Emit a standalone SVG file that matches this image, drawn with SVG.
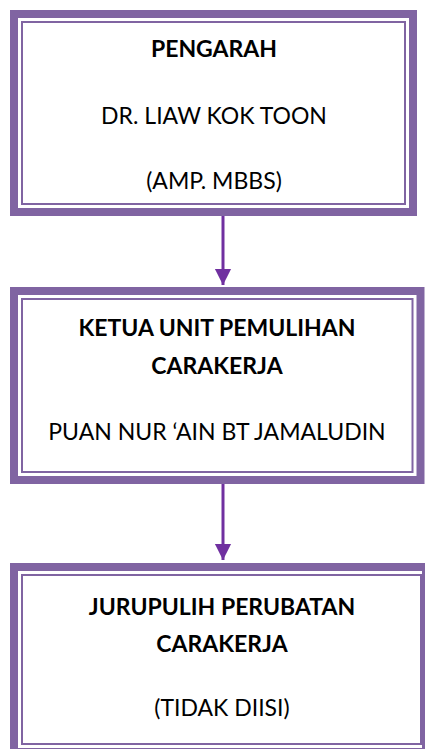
<svg xmlns="http://www.w3.org/2000/svg" width="425" height="749" viewBox="0 0 425 749">
<style>
.outer{fill:#ffffff;stroke:#8064A2;stroke-width:8}
.inner{fill:none;stroke:#8064A2;stroke-width:2}
text{font-family:Lato,"Liberation Sans",sans-serif;font-size:23px;fill:#000;text-anchor:middle}
.b{font-weight:bold}
.conn{stroke:#7030A0;stroke-width:3;fill:none}
</style>
<defs>
<marker id="ah" markerWidth="6" markerHeight="6" refX="5.3" refY="3" orient="auto" markerUnits="strokeWidth">
<path d="M0,0.3 L5.3,3 L0,5.7 Z" fill="#7030A0"/>
</marker>
</defs>
<g id="connectors">
<line class="conn" x1="223" y1="216" x2="223" y2="285" marker-end="url(#ah)"/>
<line class="conn" x1="223" y1="484" x2="223" y2="560" marker-end="url(#ah)"/>
</g>
<g id="node1">
<rect class="outer" x="14" y="14" width="399" height="198"/>
<rect class="inner" x="22" y="22" width="383" height="182"/>
<text class="b" x="214" y="57">PENGARAH</text>
<text x="214" y="124">DR. LIAW KOK TOON</text>
<text x="214" y="189">(AMP. MBBS)</text>
</g>
<g id="node2">
<rect class="outer" x="14" y="291" width="406.5" height="189"/>
<rect class="inner" x="22" y="299" width="390.5" height="173"/>
<text class="b" x="217" y="336">KETUA UNIT PEMULIHAN</text>
<text class="b" x="217" y="374">CARAKERJA</text>
<text x="217" y="440">PUAN NUR ‘AIN BT JAMALUDIN</text>
</g>
<g id="node3">
<rect class="outer" x="14" y="567" width="412" height="185"/>
<rect class="inner" x="22" y="575" width="399" height="169"/>
<text class="b" x="222" y="615">JURUPULIH PERUBATAN</text>
<text class="b" x="222" y="652">CARAKERJA</text>
<text x="222" y="716">(TIDAK DIISI)</text>
</g>
</svg>
